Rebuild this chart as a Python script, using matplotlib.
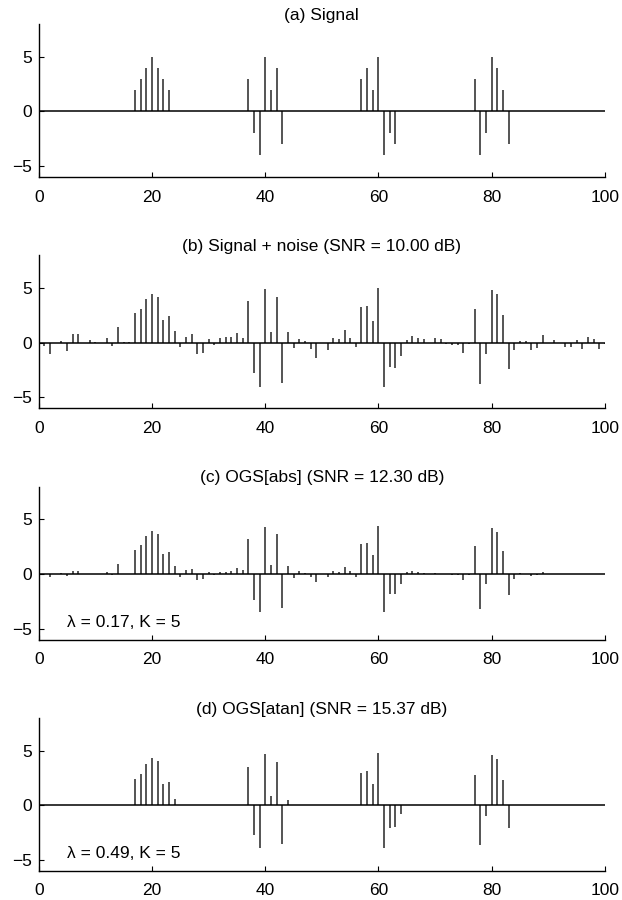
import numpy as np
import matplotlib
matplotlib.use("Agg")
import matplotlib.pyplot as plt

plt.rcParams['font.family'] = ['Liberation Sans', 'DejaVu Sans']

n = np.arange(0, 101)

# (a) clean signal: index -> value
sig_idx = [17, 18, 19, 20, 21, 22, 23,
           37, 38, 39, 40, 41, 42, 43,
           57, 58, 59, 60, 61, 62, 63,
           77, 78, 79, 80, 81, 82, 83]
sig_val = [2, 3, 4, 5, 4, 3, 2,
           3, -2, -4, 5, 2, 4, -3,
           3, 4, 2, 5, -4, -2, -3,
           3, -4, -2, 5, 4, 2, -3]

# (b) noisy signal, values at n = 0..100
noisy = [0.0, -0.28, -1.04, 0.0, 0.18, -0.74, 0.8, 0.8, 0.0, 0.25,
         0.1, -0.05, 0.46, -0.34, 1.47, 0.05, 0.03, 2.76, 3.07, 3.96,
         4.48, 4.23, 2.12, 2.48, 1.1, -0.43, 0.55, 0.83, -1.04, -0.92,
         0.37, -0.2, 0.46, 0.55, 0.49, 0.89, 0.43, 3.83, -2.79, -4.02,
         4.94, 0.95, 4.2, -3.71, 0.98, -0.52, 0.34, 0.15, -0.61, -1.44,
         0.0, -0.67, 0.4, 0.37, 1.13, 0.4, -0.43, 3.28, 3.34, 1.99,
         5.0, -4.02, -2.21, -2.27, -1.23, 0.25, 0.61, 0.46, 0.37, 0.0,
         0.43, 0.37, -0.12, -0.2, -0.2, -0.97, -0.1, 3.1, -3.8, -1.04,
         4.8, 4.46, 2.57, -2.37, -0.62, 0.17, 0.15, -0.66, -0.5, 0.72,
         -0.03, 0.24, -0.05, -0.42, -0.36, 0.29, -0.6, 0.52, 0.37, -0.54,
         -0.1]

# (c) OGS[abs] estimate
ogs_abs = [0.0, -0.03, -0.27, 0.0, 0.05, -0.2, 0.3, 0.24, 0.0, 0.03,
           0.0, 0.0, 0.15, -0.12, 0.88, 0.02, 0.02, 2.23, 2.62, 3.47,
           3.92, 3.68, 1.81, 2.02, 0.78, -0.24, 0.33, 0.48, -0.51, -0.48,
           0.18, -0.05, 0.21, 0.21, 0.24, 0.54, 0.33, 3.19, -2.38, -3.49,
           4.34, 0.82, 3.64, -3.1, 0.69, -0.33, 0.24, 0.1, -0.27, -0.69,
           0.0, -0.3, 0.24, 0.18, 0.66, 0.27, -0.27, 2.71, 2.86, 1.75,
           4.37, -3.43, -1.81, -1.81, -0.87, 0.15, 0.24, 0.15, 0.12, 0.03,
           0.05, 0.0, -0.03, -0.05, -0.05, -0.54, -0.12, 2.56, -3.22, -0.9,
           4.19, 3.86, 2.14, -1.9, -0.42, 0.05, 0.0, -0.18, -0.06, 0.18,
           0.0, 0.0, 0.0, 0.0, 0.0, 0.0, 0.0, 0.0, 0.0, 0.0,
           0.0]

# (d) OGS[atan] estimate: index -> value (others zero)
atan_idx = [17, 18, 19, 20, 21, 22, 23, 24,
            37, 38, 39, 40, 41, 42, 43, 44,
            57, 58, 59, 60, 61, 62, 63, 64,
            77, 78, 79, 80, 81, 82, 83]
atan_val = [2.38, 2.87, 3.78, 4.3, 4.02, 1.92, 2.13, 0.58,
            3.54, -2.71, -3.93, 4.73, 0.85, 3.99, -3.5, 0.49,
            2.99, 3.14, 1.92, 4.79, -3.87, -2.04, -1.95, -0.79,
            2.8, -3.63, -1.0, 4.6, 4.27, 2.35, -2.07]

titles = ["(a) Signal",
          "(b) Signal + noise (SNR = 10.00 dB)",
          "(c) OGS[abs] (SNR = 12.30 dB)",
          "(d) OGS[atan] (SNR = 15.37 dB)"]
notes = [None, None, "λ = 0.17, K = 5", "λ = 0.49, K = 5"]

signal = np.zeros(len(n))
signal[sig_idx] = sig_val
atan = np.zeros(len(n))
atan[atan_idx] = atan_val
series = [signal, np.array(noisy), np.array(ogs_abs), atan]

fig = plt.figure(figsize=(6.22, 9.0), dpi=100)
W, H = 622.0, 900.0
left, right = 38.7, 605.0
tops = [24.0, 255.3, 486.6, 717.9]
axh = 153.0
fs = 12.5

for k in range(4):
    ax = fig.add_axes([left / W, 1 - (tops[k] + axh) / H, (right - left) / W, axh / H])
    y = series[k]
    ml, sl, bl = ax.stem(n, y, basefmt='k-', linefmt='-', markerfmt=' ')
    sl.set_color('#2e2e2e')
    sl.set_linewidth(1.15)
    bl.set_color('black')
    bl.set_linewidth(1.1)
    ax.set_xlim(0, 100)
    ax.set_ylim(-6, 8)
    ax.set_xticks([0, 20, 40, 60, 80, 100])
    ax.set_yticks([-5, 0, 5])
    ax.set_yticklabels(['\u22125', '0', '5'])
    for s in ['top', 'right']:
        ax.spines[s].set_visible(False)
    for s in ['left', 'bottom']:
        ax.spines[s].set_linewidth(1.0)
        ax.spines[s].set_color('black')
    ax.tick_params(direction='in', length=3.6, width=0.8, labelsize=fs)
    ax.tick_params(axis='x', pad=9)
    ax.tick_params(axis='y', pad=5)
    ax.set_title(titles[k], fontsize=fs, pad=3)
    if notes[k]:
        ax.text(5, -4.85, notes[k], fontsize=fs, va='baseline', ha='left')

fig.savefig("out.png", dpi=100)
